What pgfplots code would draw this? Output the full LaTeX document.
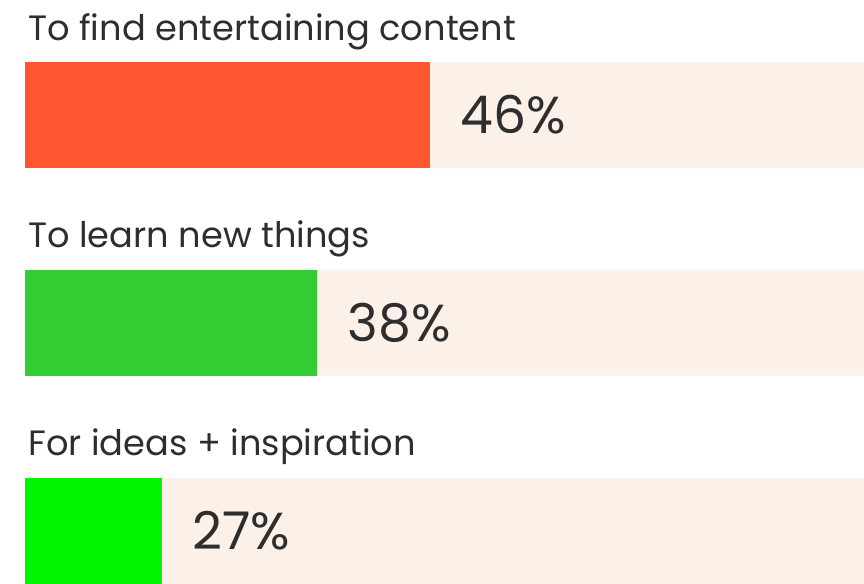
\documentclass[border=0pt]{standalone}
\usepackage{fontspec}
\setmainfont{Poppins}
\usepackage{pgfplots}
\pgfplotsset{compat=1.18}

\definecolor{barred}{HTML}{FF5530}
\definecolor{bargreen}{HTML}{33CC33}
\definecolor{barlime}{HTML}{00F500}
\definecolor{bgbar}{HTML}{FBF1E9}
\definecolor{txt}{HTML}{2E2E2E}

% 1 px of the reference = 0.5pt
\begin{document}
\begin{tikzpicture}
\path[use as bounding box] (-12.5pt,0) rectangle (419.5pt,292pt);
\begin{axis}[
    width=419.5pt, height=292pt, scale only axis,
    hide axis,
    xmin=17.28, xmax=76.78,
    ymin=0, ymax=584, y dir=reverse,
    xbar, bar width=106, bar shift=0pt,
    point meta=x,
    /pgf/number format/assume math mode=true,
    every node near coord/.append style={
        font=\fontsize{26}{31}\selectfont, text=txt,
        anchor=west, inner sep=0pt, xshift=15pt},
]
% background tracks
\addplot[draw=none, fill=bgbar] coordinates {(100,115) (100,322.5) (100,531)};
% values
\addplot[draw=none, fill=barred,
    nodes near coords={\pgfmathprintnumber{\pgfplotspointmeta}\%}]
    coordinates {(46,115)};
\addplot[draw=none, fill=bargreen,
    nodes near coords={\pgfmathprintnumber{\pgfplotspointmeta}\%}]
    coordinates {(38,322.5)};
\addplot[draw=none, fill=barlime,
    nodes near coords={\pgfmathprintnumber{\pgfplotspointmeta}\%}]
    coordinates {(27,531)};

\begin{scope}[every node/.style={anchor=base west, inner sep=0pt,
    font=\fontsize{17.6}{21}\selectfont, text=txt}]
\node at (axis cs:17.49,40) {To find entertaining content};
\node at (axis cs:17.49,247) {To learn new things};
\node at (axis cs:17.49,455) {For ideas + inspiration};
\end{scope}
\end{axis}
\end{tikzpicture}
\end{document}
